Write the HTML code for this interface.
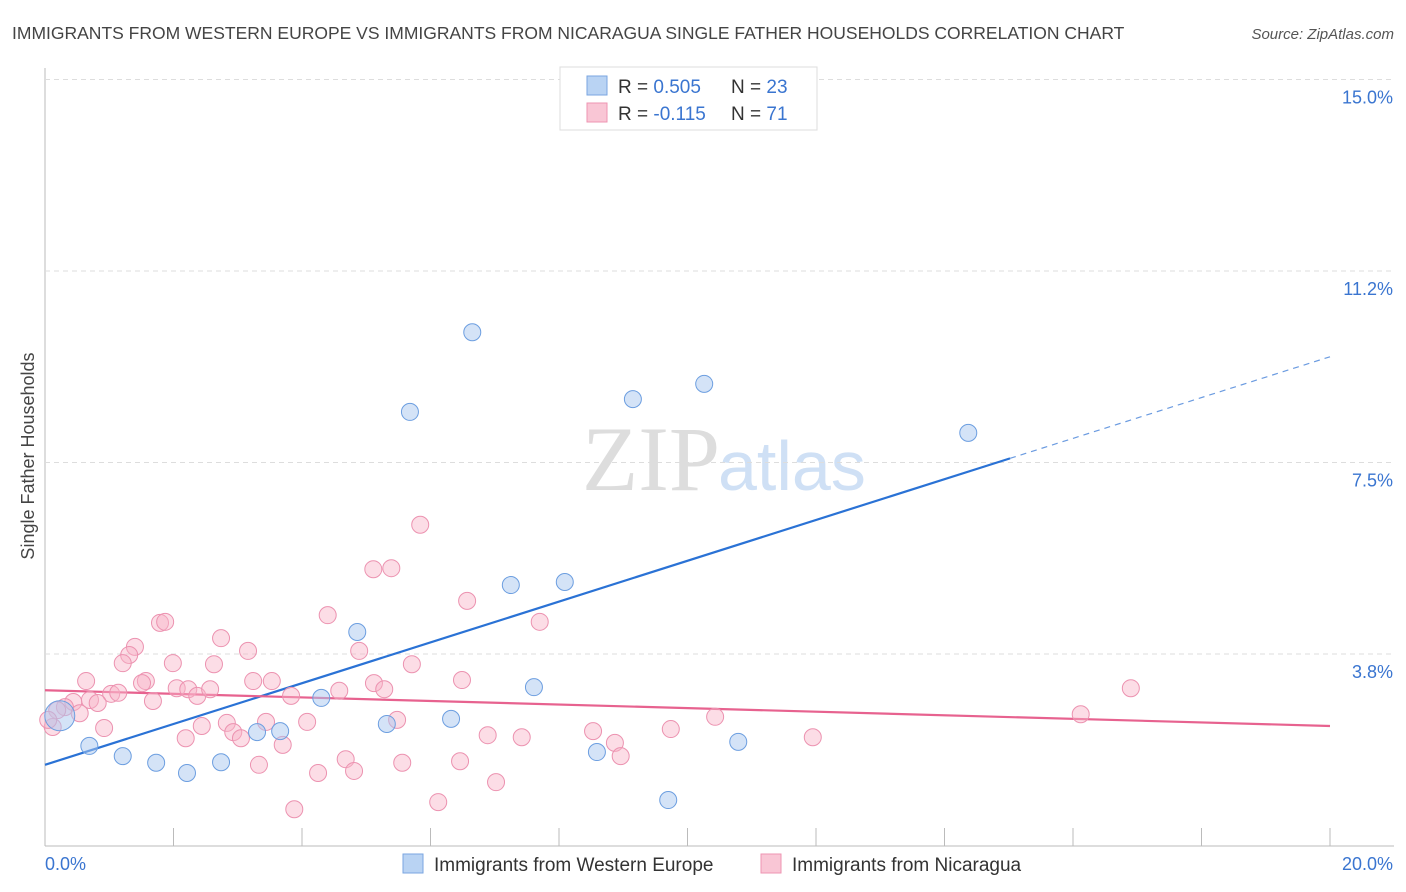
<!DOCTYPE html>
<html><head><meta charset="utf-8">
<style>
body{margin:0;background:#fff;font-family:"Liberation Sans",sans-serif;}
#wrap{position:relative;width:1406px;height:892px;overflow:hidden;}
svg text{font-family:"Liberation Sans",sans-serif;}
</style></head>
<body>
<div id="wrap">
<svg id="chart" width="1406" height="892">
<text x="12" y="39" font-size="17.5" fill="#444">IMMIGRANTS FROM WESTERN EUROPE VS IMMIGRANTS FROM NICARAGUA SINGLE FATHER HOUSEHOLDS CORRELATION CHART</text>
<text x="1394" y="39" font-size="15" fill="#555" font-style="italic" text-anchor="end">Source: ZipAtlas.com</text>
<text x="720" y="490" font-size="92" fill="#ddd" text-anchor="end" font-family="Liberation Serif" style="font-family:'Liberation Serif',serif">ZIP</text>
<text x="718" y="490" font-size="70" fill="#cfe0f5">atlas</text>
<text transform="translate(34,456) rotate(-90)" font-size="18" fill="#444" text-anchor="middle">Single Father Households</text>
<g id="grid"></g><g id="lines"></g><g id="pts"></g>
<g>
<rect x="560" y="67" width="257" height="63" fill="#fff" stroke="#ddd"/>
<rect x="587" y="76" width="20" height="19" fill="#b9d3f3" stroke="#7aa6e0"/>
<rect x="587" y="103" width="20" height="19" fill="#f9c6d5" stroke="#ee94b2"/>
<text x="618" y="93" font-size="19" fill="#333">R = <tspan fill="#3a75d0">0.505</tspan></text>
<text x="731" y="93" font-size="19" fill="#333">N = <tspan fill="#3a75d0">23</tspan></text>
<text x="618" y="120" font-size="19" fill="#333">R = <tspan fill="#3a75d0">-0.115</tspan></text>
<text x="731" y="120" font-size="19" fill="#333">N = <tspan fill="#3a75d0"> 71</tspan></text>
</g>
<g>
<rect x="403" y="854" width="20" height="19" fill="#b9d3f3" stroke="#7aa6e0"/>
<text x="434" y="871" font-size="19" fill="#333">Immigrants from Western Europe</text>
<rect x="761" y="854" width="20" height="19" fill="#f9c6d5" stroke="#ee94b2"/>
<text x="792" y="871" font-size="19" fill="#333">Immigrants from Nicaragua</text>
</g>
<text x="45" y="870" font-size="18" fill="#3a75d0">0.0%</text>
<text x="1393" y="870" font-size="18" fill="#3a75d0" text-anchor="end">20.0%</text>
</svg>
</div>
<script>
const yTicks=[3.75,7.5,11.25,15];
const yTickLabels=["3.8%","7.5%","11.2%","15.0%"];
const xTicks=[0,2,4,6,8,10,12,14,16,18,20];
const blueX=[6.65,5.68,9.15,10.26,14.37,7.25,8.09,4.86,4.30,7.61,5.32,6.32,3.66,3.30,2.74,2.21,1.73,1.21,0.69,0.23,8.59,10.79,9.70];
const blueY=[10.05,8.49,8.74,9.04,8.08,5.10,5.16,4.18,2.89,3.10,2.38,2.48,2.24,2.22,1.63,1.42,1.62,1.75,1.95,2.54,1.83,2.03,0.89];
const pinkX=[5.84,5.11,5.39,6.57,4.40,1.79,1.87,1.40,1.31,1.21,2.74,3.16,4.89,1.99,2.63,5.71,0.64,1.57,1.51,3.24,3.53,5.12,5.28,4.58,2.05,2.23,2.37,2.57,1.03,1.14,0.70,0.82,1.68,3.83,0.44,0.31,0.19,0.54,0.12,0.92,2.44,2.83,2.93,3.05,3.44,4.08,2.19,3.70,5.48,4.68,4.81,3.33,4.25,5.56,3.88,6.12,7.70,6.49,6.89,7.42,6.46,7.02,8.53,8.87,8.96,9.74,10.43,11.95,16.12,16.90,0.05];
const pinkY=[6.28,5.41,5.43,4.79,4.51,4.36,4.38,3.89,3.73,3.57,4.06,3.81,3.81,3.57,3.55,3.55,3.22,3.22,3.18,3.22,3.22,3.18,3.06,3.03,3.08,3.06,2.93,3.06,2.97,2.99,2.85,2.79,2.83,2.93,2.81,2.71,2.65,2.59,2.32,2.30,2.34,2.40,2.22,2.10,2.42,2.42,2.10,1.97,2.46,1.69,1.46,1.58,1.42,1.62,0.71,0.85,4.38,3.24,2.16,2.12,1.65,1.24,2.24,2.01,1.75,2.28,2.52,2.12,2.57,3.08,2.46];
const blueTrend=[1.58,9.57];
const blueSolidEnd=15.02;
const pinkTrend=[3.04,2.34];

const X=v=>45+v*64.25;
const Y=v=>845.5-v*51.07;
const NS="http://www.w3.org/2000/svg";
function mk(tag,attrs,parent){const e=document.createElementNS(NS,tag);for(const k in attrs)e.setAttribute(k,attrs[k]);parent.appendChild(e);return e;}
const grid=document.getElementById('grid'),lines=document.getElementById('lines'),pts=document.getElementById('pts');

let ax=mk('line',{x1:45,y1:68,x2:45,y2:846,stroke:'#bbb'},grid);


let bx=mk('line',{x1:45,y1:846,x2:1394,y2:846,stroke:'#bbb'},grid);


yTicks.forEach((t,i)=>{
  const g=mk('line',{x1:45,y1:Y(t),x2:1394,y2:Y(t),stroke:'#ddd','stroke-dasharray':'5,4'},grid);
  
  
  const tx=mk('text',{x:1393,y:Y(t)+24,'font-size':18,fill:'#3a75d0','text-anchor':'end'},grid);
  tx.textContent=yTickLabels[i];
  
  
});
xTicks.forEach(t=>{
  const l=mk('line',{x1:X(t),y1:828,x2:X(t),y2:846,stroke:'#bbb'},grid);
  
  
});
const bslope=(blueTrend[1]-blueTrend[0])/20;
let bl=mk('line',{x1:X(0),y1:Y(blueTrend[0]),x2:X(blueSolidEnd),y2:Y(blueTrend[0]+bslope*blueSolidEnd),stroke:'#2a72d5','stroke-width':2.2},lines);


let bd=mk('line',{x1:X(blueSolidEnd),y1:Y(blueTrend[0]+bslope*blueSolidEnd),x2:X(20),y2:Y(blueTrend[1]),stroke:'#6b9be0','stroke-width':1.2,'stroke-dasharray':'6,5'},lines);


let pl=mk('line',{x1:X(0),y1:Y(pinkTrend[0]),x2:X(20),y2:Y(pinkTrend[1]),stroke:'#e7628f','stroke-width':2.2},lines);


pinkX.forEach((x,i)=>{
  const c=mk('circle',{cx:X(x),cy:Y(pinkY[i]),r:8.5,fill:'rgba(248,180,200,0.45)',stroke:'#ec92b0','stroke-width':1},pts);
  
  
});
blueX.forEach((x,i)=>{
  const c=mk('circle',{cx:X(x),cy:Y(blueY[i]),r:(i===19?15:8.5),fill:'rgba(170,200,240,0.5)',stroke:'#6c9ee0','stroke-width':1},pts);
  
  
});
</script>
</body></html>
